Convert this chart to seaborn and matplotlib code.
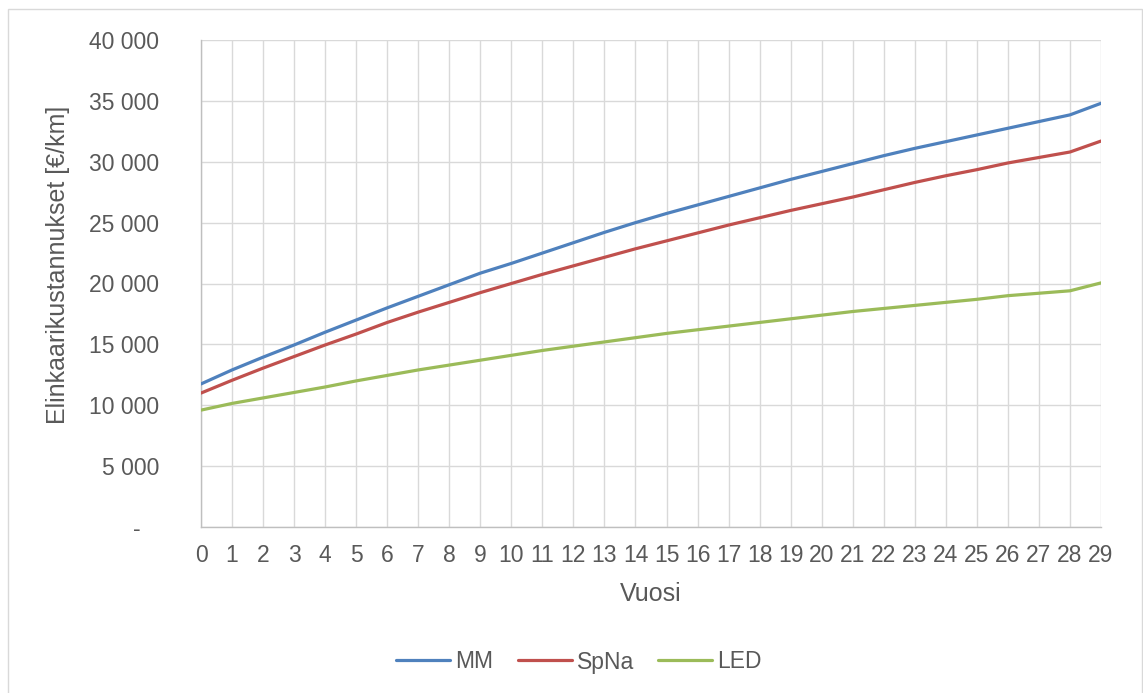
import numpy as np
import pandas as pd
import seaborn as sns
import matplotlib.pyplot as plt
from matplotlib.patches import Rectangle
from matplotlib.lines import Line2D
from matplotlib.ticker import FuncFormatter, MultipleLocator

sns.set_theme(style="white")
plt.rcParams['font.family'] = ['Liberation Sans', 'DejaVu Sans']

# Life-cycle cost per km, cumulative by year
years = list(range(30))
mm = [11750, 12900, 13950, 14950, 16000, 17000, 18000, 18950, 19900, 20850,
      21650, 22500, 23350, 24200, 25000, 25750, 26450, 27150, 27850, 28550,
      29200, 29850, 30500, 31100, 31650, 32200, 32750, 33300, 33850, 34800]
spna = [11000, 12050, 13050, 14000, 14950, 15850, 16800, 17650, 18450, 19250,
        20000, 20750, 21450, 22150, 22850, 23500, 24150, 24800, 25400, 26000,
        26550, 27100, 27700, 28300, 28850, 29350, 29900, 30350, 30800, 31700]
led = [9600, 10150, 10600, 11050, 11500, 12000, 12450, 12900, 13300, 13700,
       14100, 14500, 14850, 15200, 15550, 15900, 16200, 16500, 16800, 17100,
       17400, 17700, 17950, 18200, 18450, 18700, 19000, 19200, 19400, 20050]
series_names = ['MM', 'SpNa', 'LED']
colors = ['#4F81BD', '#C0504D', '#9BBB59']

df = pd.DataFrame({
    'Vuosi': years * 3,
    'Kustannus': mm + spna + led,
    'Sarja': sum([[n] * len(years) for n in series_names], []),
})

W, H = 1143, 693
fig = plt.figure(figsize=(W / 100, H / 100), dpi=100)
fig.patch.set_facecolor('white')
fig.patches.append(Rectangle((8 / W, -0.01), (1142 - 8) / W, 1 - 9 / H + 0.01,
                             transform=fig.transFigure, fill=False,
                             edgecolor='#D9D9D9', linewidth=1.0))

ax = fig.add_axes([201 / W, 1 - 527 / H, 900 / W, 487 / H])
sns.lineplot(data=df, x='Vuosi', y='Kustannus', hue='Sarja',
             hue_order=series_names, palette=colors, linewidth=2.3,
             ax=ax, legend=False, zorder=3)

ax.set_xlim(0, 29)
ax.set_ylim(0, 40000)
ax.xaxis.set_major_locator(MultipleLocator(1))
ax.yaxis.set_major_locator(MultipleLocator(5000))
ax.yaxis.set_major_formatter(FuncFormatter(
    lambda v, p: '-   ' if v == 0 else f"{int(v):,}".replace(',', ' ')))
ax.grid(True, color='#D9D9D9', linewidth=1.0, zorder=0)
for side in ['top', 'right']:
    ax.spines[side].set_visible(False)
for side in ['left', 'bottom']:
    ax.spines[side].set_color('#BFBFBF')
    ax.spines[side].set_linewidth(1.0)

tc = '#595959'
tick_fs = 16.5
title_fs = 18
ax.tick_params(axis='x', length=0, pad=12, labelsize=tick_fs, labelcolor=tc)
ax.tick_params(axis='y', length=0, pad=30, labelsize=tick_fs, labelcolor=tc)

ax.set_xlabel('Vuosi', fontsize=title_fs, color=tc)
ax.set_ylabel('Elinkaarikustannukset [€/km]', fontsize=title_fs, color=tc)
ax.xaxis.set_label_coords(0.5, (527 - 594) / 487)
ax.yaxis.set_label_coords((58 - 201) / 900, (527 - 265) / 487)
ax.xaxis.label.set_va('center')
ax.yaxis.label.set_va('center')

handles = [Line2D([], [], color=c, linewidth=2.3) for c in colors]
fig.legend(handles, series_names, loc='center', bbox_to_anchor=(579 / W, 1 - 662 / H),
           ncol=3, frameon=False, fontsize=tick_fs, labelcolor=tc,
           handlelength=2.36, handletextpad=0.22, columnspacing=1.05)

fig.savefig('out.png', dpi=100, facecolor='white')
